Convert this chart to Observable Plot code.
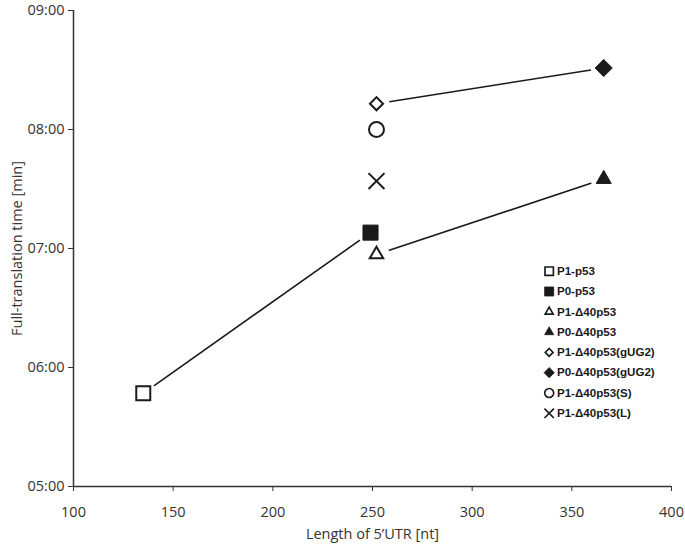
<!DOCTYPE html>
<html>
<head>
<meta charset="utf-8">
<script src="https://cdn.jsdelivr.net/npm/d3@7"></script>
<script src="https://cdn.jsdelivr.net/npm/@observablehq/plot@0.6"></script>
<style>
  body { margin: 0; background: #fff; }
  #wrap { position: relative; width: 685px; height: 545px; }
  #legend { position: absolute; left: 540px; top: 262px; }
</style>
</head>
<body>
<div id="wrap"><div id="chart"></div><div id="legend"></div></div>
<script>
// ---- data ----
const names = ["P1-p53", "P0-p53", "P1-Δ40p53", "P0-Δ40p53", "P1-Δ40p53(gUG2)", "P0-Δ40p53(gUG2)", "P1-Δ40p53(S)", "P1-Δ40p53(L)"];
const utrLength = [135, 249, 252, 366, 252, 366, 252, 252];               // nt
const timeLabel = ["05:47", "07:08", "06:57", "07:35", "08:13", "08:31", "08:00", "07:34"]; // mm:ss
const symbols = ["square", "square", "triangle", "triangle", "diamond2", "diamond2", "circle", "times"];
const filled = [false, true, false, true, false, true, false, false];
const markerR = [7.9, 8.5, 5.0, 5.6, 5.9, 7.7, 7.5, 7.3];
const linePairs = [["P1-p53", "P0-p53"], ["P1-Δ40p53", "P0-Δ40p53"], ["P1-Δ40p53(gUG2)", "P0-Δ40p53(gUG2)"]];
const xTicks = [100, 150, 200, 250, 300, 350, 400];
const yTickLabels = ["05:00", "06:00", "07:00", "08:00", "09:00"];

// ---- helpers ----
const toSec = s => { const [m, ss] = s.split(":").map(Number); return m * 60 + ss; };
const fmt = v => String(Math.floor(v / 60)).padStart(2, "0") + ":" + String(Math.round(v % 60)).padStart(2, "0");
const ink = "#1a1a1a";
const axisColor = "#333";
const font = "'Open Sans', 'Liberation Sans', sans-serif";

const points = names.map((n, i) => ({
  name: n, x: utrLength[i], y: toSec(timeLabel[i]),
  symbol: symbols[i], fill: filled[i] ? ink : "white",
  r: markerR[i], sw: filled[i] ? 1 : 2
}));
const byName = new Map(points.map(p => [p.name, p]));
const lines = linePairs.flatMap((pair, k) => pair.map(n => ({...byName.get(n), series: k})));
const yTicks = yTickLabels.map(toSec);

const chart = Plot.plot({
  width: 685, height: 545,
  marginLeft: 73, marginRight: 14, marginTop: 10, marginBottom: 59,
  style: {fontFamily: font, fontSize: "14px", color: axisColor, background: "white"},
  x: {domain: [100, 400]},
  y: {domain: [yTicks[0], yTicks[yTicks.length - 1]]},
  r: {type: "identity"},
  symbol: {type: "identity"},
  marks: [
    Plot.axisX({ticks: xTicks, tickSize: 5, tickPadding: 15, stroke: axisColor, fill: "#333",
      label: "Length of 5’UTR [nt]", labelAnchor: "center", labelArrow: "none", labelOffset: 52, fontSize: 14.5}),
    Plot.axisY({ticks: yTicks, tickFormat: fmt, tickSize: 5, tickPadding: 4, stroke: axisColor, fill: "#333",
      label: "Full-translation time [min]", labelAnchor: "center", labelArrow: "none", labelOffset: 62, fontSize: 14.5}),
    Plot.ruleX([100], {stroke: axisColor, strokeWidth: 1.5}),
    Plot.ruleY([yTicks[0]], {stroke: axisColor, strokeWidth: 1.5}),
    Plot.line(lines, {x: "x", y: "y", z: "series", stroke: ink, strokeWidth: 1.6}),
    Plot.dot(points, {x: "x", y: "y", r: 13, fill: "white", stroke: null}),
    Plot.dot(points, {x: "x", y: "y", symbol: "symbol", r: "r", fill: "fill", stroke: ink, strokeWidth: "sw"})
  ]
});
document.getElementById("chart").append(chart);

const legend = Plot.plot({
  width: 150, height: names.length * 19 + 12,
  marginTop: 6, marginBottom: 6, marginLeft: 0, marginRight: 0,
  style: {fontFamily: "'Liberation Sans', Arial, sans-serif", fontSize: "12px", color: ink, background: "transparent"},
  x: {axis: null},
  y: {domain: names, axis: null, padding: 0},
  r: {type: "identity"},
  symbol: {type: "identity"},
  marks: [
    Plot.dot(points, {y: "name", frameAnchor: "left", dx: 9, symbol: "symbol", r: d => d.r * 0.62,
      fill: "fill", stroke: ink, strokeWidth: d => d.sw * 0.85}),
    Plot.text(points, {y: "name", text: "name", frameAnchor: "left", dx: 17, textAnchor: "start",
      fontWeight: "bold", fontSize: 12, fill: ink})
  ]
});
document.getElementById("legend").append(legend);
</script>
</body>
</html>
